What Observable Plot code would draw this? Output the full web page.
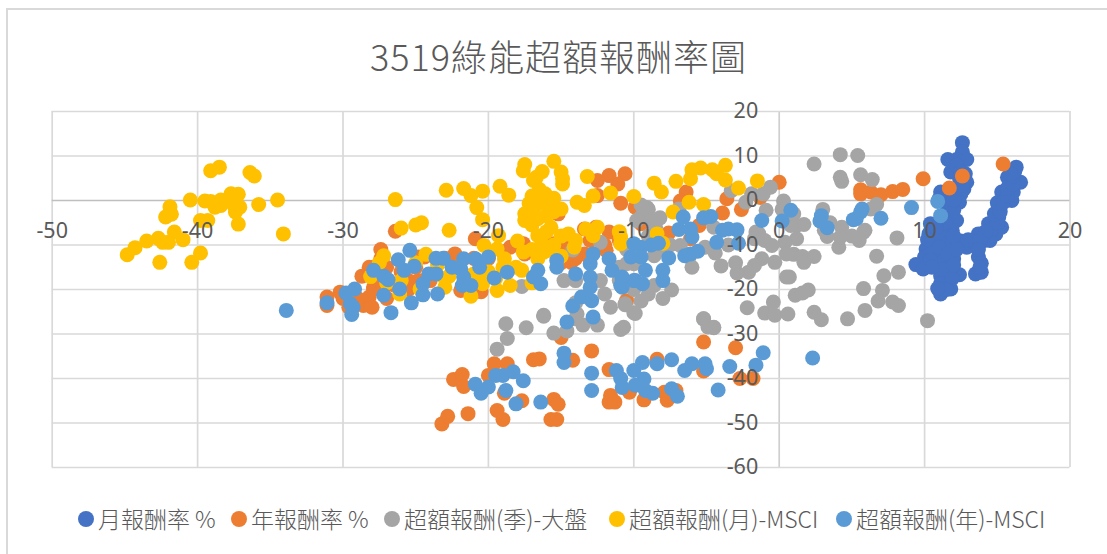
<!DOCTYPE html>
<html>
<head>
<meta charset="utf-8">
<script src="https://cdn.jsdelivr.net/npm/d3@7"></script>
<script src="https://cdn.jsdelivr.net/npm/@observablehq/plot@0.6"></script>
<style>
html,body{margin:0;padding:0;background:#fff;width:1107px;height:554px;overflow:hidden;font-family:"Noto Sans CJK TC","Noto Sans",sans-serif;color:#595959}
#frame{position:absolute;left:6px;top:8px;width:1110px;height:560px;border:2px solid #d9d9d9;box-sizing:border-box}
#title{position:absolute;left:0;top:28px;width:1117px;height:56px;line-height:54px;text-align:center;font-size:36px;font-weight:300;letter-spacing:1px}
#chart{position:absolute;left:0;top:100px}
#chart svg{overflow:visible}
#legend{position:absolute;left:0;top:500px;width:1107px;height:36px;font-size:23px;font-weight:300;line-height:36px}
.item{position:absolute;top:0;white-space:nowrap}
.dot{position:absolute;top:11px;left:-20px;width:16px;height:16px;border-radius:50%}
</style>
</head>
<body>
<div id="frame"></div>
<div id="title"></div>
<div id="chart"></div>
<div id="legend"></div>
<script>
const chartTitle = "3519綠能超額報酬率圖";
const seriesNames = ["月報酬率 %", "年報酬率 %", "超額報酬(季)-大盤", "超額報酬(月)-MSCI", "超額報酬(年)-MSCI"];
const seriesColors = ["#4472c4", "#ed7d31", "#a5a5a5", "#ffc000", "#5b9bd5"];
const xTicks = [-50,-40,-30,-20,-10,0,10,20];
const yTicks = [20,10,0,-10,-20,-30,-40,-50,-60];

const monthly = [[12.6,13],[12.6,10.9],[11.6,9.2],[12.9,9.2],[12.2,9.2],[11.8,6.4],[12.2,7.9],[12.9,4.1],[12.7,2.6],[12.5,1.5],[11.1,1.9],[11,.4],[12.4,-.4],[12,-2.2],[12.2,-4.5],[11.9,-6.7],[10.4,-5.2],[10.3,-7.5],[11.3,-8.2],[10.6,-9.7],[10.1,-10.9],[10,-12.7],[9.4,-14.4],[9.9,-15.4],[10.9,-14.2],[12,-13.1],[11.8,-15.4],[12.4,-16.7],[11.1,-16.9],[11.1,-18.7],[11.8,-19.9],[11.1,-21],[11.4,-18],[12.5,-9.1],[12.9,-10.5],[13.5,-9],[14.1,-9],[13.7,-7.5],[13.7,-12.7],[13.9,-14.1],[13.5,-16.5],[13.9,-16.1],[14.4,-5.2],[14.9,-7.5],[15.3,-6],[15.1,-3.7],[15.1,-1.5],[15.5,.7],[16,0],[16.1,1.9],[16.6,4.1],[16.3,7.5],[15.7,5.2],[15.3,1.9],[15.9,3.4],[13.7,-10.1],[10.9,-12],[10.4,-12],[11.3,-13.5],[11.8,-10.5],[11.1,-7.1],[11.5,1],[12,1],[11.5,-1],[11.8,-3],[12,0],[12.6,3.5],[12.4,5],[12.5,6.5],[12.8,6],[11.4,-5],[11,-9],[10.8,-6],[10.2,-8.8],[11.5,-10],[12,-8],[11,-10.5],[10.4,-13.5],[11.2,-15.5],[10.5,-15],[11.6,-12],[12.2,-11],[11.9,-17.5],[11.5,-20],[10.9,-19.8],[12,-14.5],[13.2,-10],[13,-8.8],[14.5,-9],[14.6,-6.5],[15,-5],[14.8,-3],[15.2,-2.5],[15,-.5],[15.4,-.5],[15.7,1],[15.7,2.8],[16.1,3.7],[16,5.5],[16.2,6.5],[15.9,6],[14.2,-7],[13.8,-9],[13.7,-11],[13.8,-15]];

const yearly = [[-26.4,-6.9],[-27.4,-11],[-27.4,-13.1],[-27.9,-15],[-27.9,-19.9],[-28.3,-22.8],[-28.6,-23.6],[-22.3,-12],[-20.9,-8.6],[-21.9,-20.2],[-18.5,-10.5],[-17.6,-9.7],[-14.9,-9.7],[-15.5,-9.7],[-15.2,-11.2],[-14.3,-13.9],[-13.4,-6.4],[-12.6,-6],[-11.7,-7.1],[-11.9,-11.2],[-13.4,-12],[-10.6,6],[-11.7,5.6],[-12.5,4.5],[-11.1,3.7],[-10.9,-.6],[-9.9,-1.5],[-12.5,1.1],[-10.5,-22.5],[-15.2,-3],[-24.8,-12.7],[-24.4,-12.7],[-24.8,-18],[-6.4,1.9],[-6.8,-.1],[-3.6,.4],[-3.9,-2.8],[-2.6,-2],[-1.3,.7],[0,4.1],[-7.6,-7.3],[-5.5,-5.6],[-6.1,-8.6],[-9.5,-5.2],[5.6,2.4],[5.6,1.5],[6.3,1.9],[7,1.3],[7.8,2],[8.5,2.5],[9.9,4.9],[11.7,2.8],[12.6,5.5],[15.4,8.2],[-23.2,-50.2],[-22.8,-48.5],[-21.4,-47.9],[-19.4,-47.2],[-19,-49.2],[-15.7,-49.2],[-15.3,-49.2],[-15.5,-44.7],[-15.2,-45.8],[-17.7,-45],[-18.9,-43.3],[-22.4,-40.2],[-21.8,-39.1],[-21.7,-41.8],[-20,-39.3],[-19.6,-36.7],[-18.7,-36.7],[-16.9,-35.8],[-16.5,-35.6],[-14.2,-35.9],[-15,-30.8],[-12.9,-33.8],[-11.7,-38],[-11.6,-43.8],[-11.7,-45.3],[-11.3,-45.3],[-10.3,-43.1],[-9.3,-44.8],[-8.4,-35.7],[-7.9,-43.1],[-7.7,-44.9],[-7.1,-42.7],[-5.2,-38.3],[-5.2,-31.8],[-3,-33.1],[-2.7,-40],[-1.8,-40],[-31.1,-21.7],[-31.1,-23.6],[-30.2,-20.6],[-29.6,-24],[-28.5,-23.2],[-28.2,-21.7],[-27.9,-19.5],[-28.2,-15],[-23,-13],[-25,-15],[-26,-16],[-24,-18],[-14,-13],[-15,-14],[-20.5,-20.5],[-27.5,-18],[-28.7,-17],[-27,-15],[-26.5,-19],[-25.5,-18],[-25.5,-20],[-22,-14],[-21,-13],[-20,-13],[-19,-11.5],[-17.5,-12],[-16.5,-12],[-14.5,-11],[-13,-9],[-11,-9],[-12,-10],[-13,-13],[-30,-22],[-28,-24],[-27,-22],[-21.5,-19],[-29,-22]];

const quarterly = [[2.4,8.2],[4.2,10.3],[5.4,10.1],[4.2,5.2],[4.3,4.3],[5.6,5.8],[6.4,4.7],[-3.3,2.2],[-2.3,-.4],[-1.9,1.5],[-1.1,1.5],[-.6,3],[.3,-.1],[-.9,-2.2],[-9.1,-1.6],[-9.5,-3.7],[-8.2,-3.9],[-6.9,-1.9],[-4.5,-6],[-1.6,-7.1],[-1.4,-7.5],[-1.7,-8.6],[1.2,-5.6],[1.7,-5.4],[.8,-5.6],[1.2,-8.6],[.4,-9.4],[-.5,-10.1],[-.3,-13.9],[-1.2,-13.1],[-1.7,-14.6],[-2.1,-16.1],[-2.9,-16.3],[-4,-14.7],[-4.4,-11.8],[-5.1,-10.5],[-6.2,-12.7],[-6.8,-10.1],[-8.6,-12.4],[-7.4,-20.1],[-8.6,-19.1],[-9.5,-22.6],[-10,-25.2],[-10.6,-23.2],[-10.7,-28.5],[-5.2,-26.6],[-4.5,-28.5],[-2.2,-24.1],[-1,-25.3],[-.4,-22.8],[-.3,-25.8],[.6,-25.5],[.7,-17.2],[.5,-17.2],[1.1,-21.3],[1.6,-20.8],[2,-20.1],[2.4,-25.1],[2.9,-26.8],[4.7,-26.6],[5.9,-24.7],[1,-12.1],[1.6,-12.6],[1.7,-13.9],[2.4,-12.6],[3.1,-6.7],[3.3,-8.1],[4.1,-10.5],[4.3,-6],[4.2,-8.2],[6.7,-.9],[6.3,-1.9],[5.9,-6.7],[5.8,-7.1],[8.1,-8.4],[6.7,-12.5],[7.2,-16.9],[8.2,-16.1],[5.8,-19.8],[7.1,-20.2],[6.8,-22.6],[7.8,-22.8],[8.2,-23.6],[10.2,-27],[-19.4,-33.4],[-18.7,-31],[-18.8,-27.7],[-17.4,-28.6],[-16.2,-26],[-15.5,-29.8],[-14.6,-29.3],[-14,-26.6],[-10.9,-29],[-9.9,-25.4],[-5.2,-26.6],[-4.9,-28.4],[-4.5,-28.6],[-17.7,-19.3],[-14.8,-18],[-12.3,-18],[-14.2,-11.1],[-12.3,-9.4],[-10.6,-23.4],[-11.6,-24],[-9.8,-4.5],[-10,-14.2],[-10.5,-14.2],[-16.2,-25.8],[-13.9,-25.5],[-9,-2],[-8.5,-6],[-9.5,-1],[-8.8,-4.5],[-9,-8],[-8,-11],[-7.5,-10],[-10.5,-11],[-11,-15],[-9,-21],[-10,-20],[-8,-22],[-11,-18],[-14,-18],[-12,-21],[-14,-23],[-13.5,-28],[-12.5,-28],[-6,-15],[-3,-14],[-3.5,-10],[-1,-9],[.5,-12],[.2,-2],[1,-3],[3,-2],[3.5,-5],[5,-8],[5.5,-9]];

const monthlyMsci = [[-44.84,-12.2],[-44.3,-10.6],[-43.5,-9.1],[-42.7,-8.5],[-42.4,-9.4],[-42,-9.4],[-41.6,-7.1],[-41,-8.8],[-42.6,-13.9],[-40.4,-13.9],[-39.8,-11.8],[-42.2,-3.7],[-41.8,-3.1],[-41.9,-1.4],[-40.5,.1],[-39.8,-4.5],[-39.3,-4.5],[-39.5,-.1],[-39.1,-.2],[-38.8,-1.5],[-38.4,-1.1],[-38.4,.1],[-37.7,1.5],[-37.2,1.4],[-38,0],[-37.5,-1.1],[-37.1,-1.5],[-37.4,-2.6],[-37.2,-5.3],[-35.8,-.9],[-34.5,.1],[-34.1,-7.5],[-39.1,6.7],[-38.5,7.5],[-36.4,6.3],[-36.1,5.5],[-26.4,.2],[-26,-6.2],[-25,-5.5],[-24.6,-5],[-22.7,-6.7],[-22.9,2.3],[-21.7,2.7],[-21.2,1.1],[-20.4,2.1],[-20.8,-1.6],[-20.4,-4.3],[-19.2,3.2],[-18.6,1.2],[-17.5,8.1],[-17.6,6.7],[-16.3,6.5],[-16.7,5.2],[-16.9,4.5],[-15.5,8.8],[-15,6.4],[-14.9,4.9],[-14.9,3.7],[-13.2,5.4],[-12.8,1],[-11.6,1.7],[-13.9,-.4],[-13.4,-1.1],[-10,.9],[-17.2,-.7],[-16.8,.4],[-16.1,1.5],[-16.6,-.7],[-15.9,-1.1],[-15,-1.9],[-16.9,-2.6],[-17.5,-3],[-17.5,-4.5],[-16.6,-4.1],[-16,-3.4],[-15.7,-6],[-16.6,-7.9],[-16.3,-9.7],[-16.2,-11.6],[-15.7,-11.2],[-16.6,-13.1],[-18,-9.1],[-17.6,-11.6],[-20.3,-10.1],[-19.3,-7.9],[-19.4,-10.9],[-18.9,-13.1],[-18.1,-15],[-17.7,-15.7],[-18.5,-19.1],[-19.4,-20.2],[-20.4,-18.7],[-21.2,-21.5],[-22.7,-17],[-24.3,-12.1],[-27.2,-12.4],[-28.1,-17.1],[-26.1,-21],[-24.7,-19.9],[-14,-9],[-14.1,-10.5],[-13.3,-6.4],[-12.8,-7.9],[-10.9,-8.2],[-10.9,-9.7],[-6,6.9],[-5.4,7.3],[-6.1,4.9],[-4.6,6.9],[-4.3,6],[-3.7,7.9],[-3.7,4.6],[-8.6,3.9],[-8.1,1.9],[-7.1,4.3],[-6.2,-.4],[-5.2,-.9],[-7.3,-2.6],[-2.8,2.8],[-1.5,4.4],[-8.4,-7.5],[-8,-9.6],[-25,-14],[-23.5,-14.5],[-26,-18],[-23,-17.5],[-21,-16.5],[-20,-16],[-19,-15],[-20.5,-17],[-19.5,-17.5],[-17,-18.5],[-27,-18.5],[-27.5,-14],[-23,-19.5],[-15.5,-10],[-15,-8],[-12.5,-6],[-11,-7],[-17,1],[-16.5,2.5],[-15.5,.5],[-15.5,-2.5],[-17,-5.5],[-16,-7],[-17,-11],[-15,-12.5],[-14.5,-7.5]];

const yearlyMsci = [[-33.9,-24.7],[-31.1,-23],[-29.8,-20.8],[-29.2,-19.9],[-29.5,-23.2],[-29.3,-24],[-29.4,-25.6],[-27.9,-15.7],[-27.2,-17],[-26.9,-17.8],[-27.2,-21.3],[-26.7,-25.2],[-26.1,-19.9],[-25.4,-11.2],[-26.2,-13.3],[-25.8,-15.7],[-25.3,-23],[-25.1,-14.8],[-24.5,-18.7],[-24.5,-21.2],[-24.1,-16.5],[-23.5,-21],[-23.6,-13],[-23.1,-13],[-23.6,-16.5],[-22.5,-15],[-21.9,-15.4],[-21.7,-13.1],[-20.9,-13.1],[-20,-12.7],[-20.6,-15],[-21.8,-19.1],[-21.2,-19.1],[-21.7,-17.2],[-19.6,-17.4],[-18.7,-16.1],[-16.6,-15.7],[-16.9,-17.2],[-16.4,-18.7],[-15.3,-13.5],[-15.3,-15],[-14,-16.5],[-12.8,-12],[-13,-14.2],[-13,-17.2],[-13,-19.5],[-13.6,-21.7],[-12.9,-22.5],[-14.2,-23.7],[-12.8,-26.2],[-14.6,-27.3],[-11.7,-13.1],[-11.5,-15.7],[-10.8,-17.2],[-10.9,-19.1],[-9.9,-18],[-10,-9.7],[-10.2,-12.7],[-6.6,-3.7],[-6.9,-6.5],[-6.1,-6.4],[-6,-8.2],[-5.2,-3.9],[-4.7,-3.6],[-3.9,-6.7],[-3.5,-6.4],[-2.9,-6.6],[-4.3,-9.4],[-2.8,-9.6],[-1.2,-4.5],[.2,-4.6],[.8,-2.2],[2.8,-4.6],[2.9,-3.4],[3.3,-6.1],[5.1,-4.3],[5.6,-2.6],[-8.3,-9.6],[-8.8,-10],[-9.5,-10.5],[-9.5,-12.7],[-9.2,-15.7],[-9.4,-18.7],[-10,-18],[-10.8,-17.6],[-10.8,-19.5],[-8,-18],[-8,-15.7],[-7.6,-12.9],[-6.5,-12.4],[-5.6,-11.4],[-6.1,-12],[10.9,-.2],[11.1,-3.4],[9.1,-1.6],[7,-4],[5.7,-1.9],[5.3,-4.1],[-14.8,-34.3],[-14.8,-36.4],[-12.9,-38.8],[-12.9,-42.7],[-20.9,-41.3],[-20.5,-43.3],[-20,-41.9],[-19.5,-39.3],[-19,-39.3],[-18.3,-38.5],[-17.6,-40.5],[-18.8,-42.7],[-18.1,-45.7],[-16.4,-45.3],[-11.2,-38.2],[-10.9,-40],[-10.8,-42],[-10,-38.2],[-9.4,-36.4],[-8.4,-36.7],[-7.4,-35.8],[-9.3,-40.1],[-9.9,-41.5],[-9.2,-42.7],[-8.7,-43.3],[-7.4,-42.3],[-7,-44],[-6.5,-38.2],[-6,-36.7],[-5.1,-36.7],[-5,-37.8],[-4.2,-42.6],[-3.4,-37.3],[-1.6,-37],[-1.1,-34.2],[2.3,-35.4]];

const allSeries = [monthly, yearly, quarterly, monthlyMsci, yearlyMsci];

document.getElementById("title").textContent = chartTitle;

const dotMarks = allSeries.map((s, i) => Plot.dot(s, {x: d => d[0], y: d => d[1], r: 7.5, fill: seriesColors[i], stroke: "none"}));

const plot = Plot.plot({
  width: 1107, height: 385,
  marginLeft: 51.7, marginRight: 37.5, marginTop: 11, marginBottom: 18,
  style: {background: "transparent", fontFamily: '"Noto Sans", sans-serif', fontSize: "21.5px", color: "#595959"},
  x: {domain: [-50, 20], axis: null},
  y: {domain: [-60, 20], axis: null},
  marks: [
    Plot.ruleX(xTicks, {stroke: d => d === 0 ? "#cfcfcf" : "#d9d9d9", strokeWidth: 1.7}),
    Plot.ruleY(yTicks, {stroke: d => d === 0 ? "#bfbfbf" : "#d9d9d9", strokeWidth: 1.7}),
    ...dotMarks,
    Plot.text(xTicks, {x: d => d, y: 0, dy: 31, text: d => String(d), fill: "#595959"}),
    Plot.text(yTicks, {x: 0, y: d => d, dx: -21, textAnchor: "end", text: d => String(d), fill: "#595959"})
  ]
});
document.getElementById("chart").appendChild(plot);

const legendLefts = [98, 251, 404, 629, 856];
const legend = document.getElementById("legend");
seriesNames.forEach((name, i) => {
  const el = document.createElement("div");
  el.className = "item";
  el.style.left = legendLefts[i] + "px";
  el.textContent = name;
  const dot = document.createElement("span");
  dot.className = "dot";
  dot.style.background = seriesColors[i];
  el.appendChild(dot);
  legend.appendChild(el);
});
</script>
</body>
</html>
